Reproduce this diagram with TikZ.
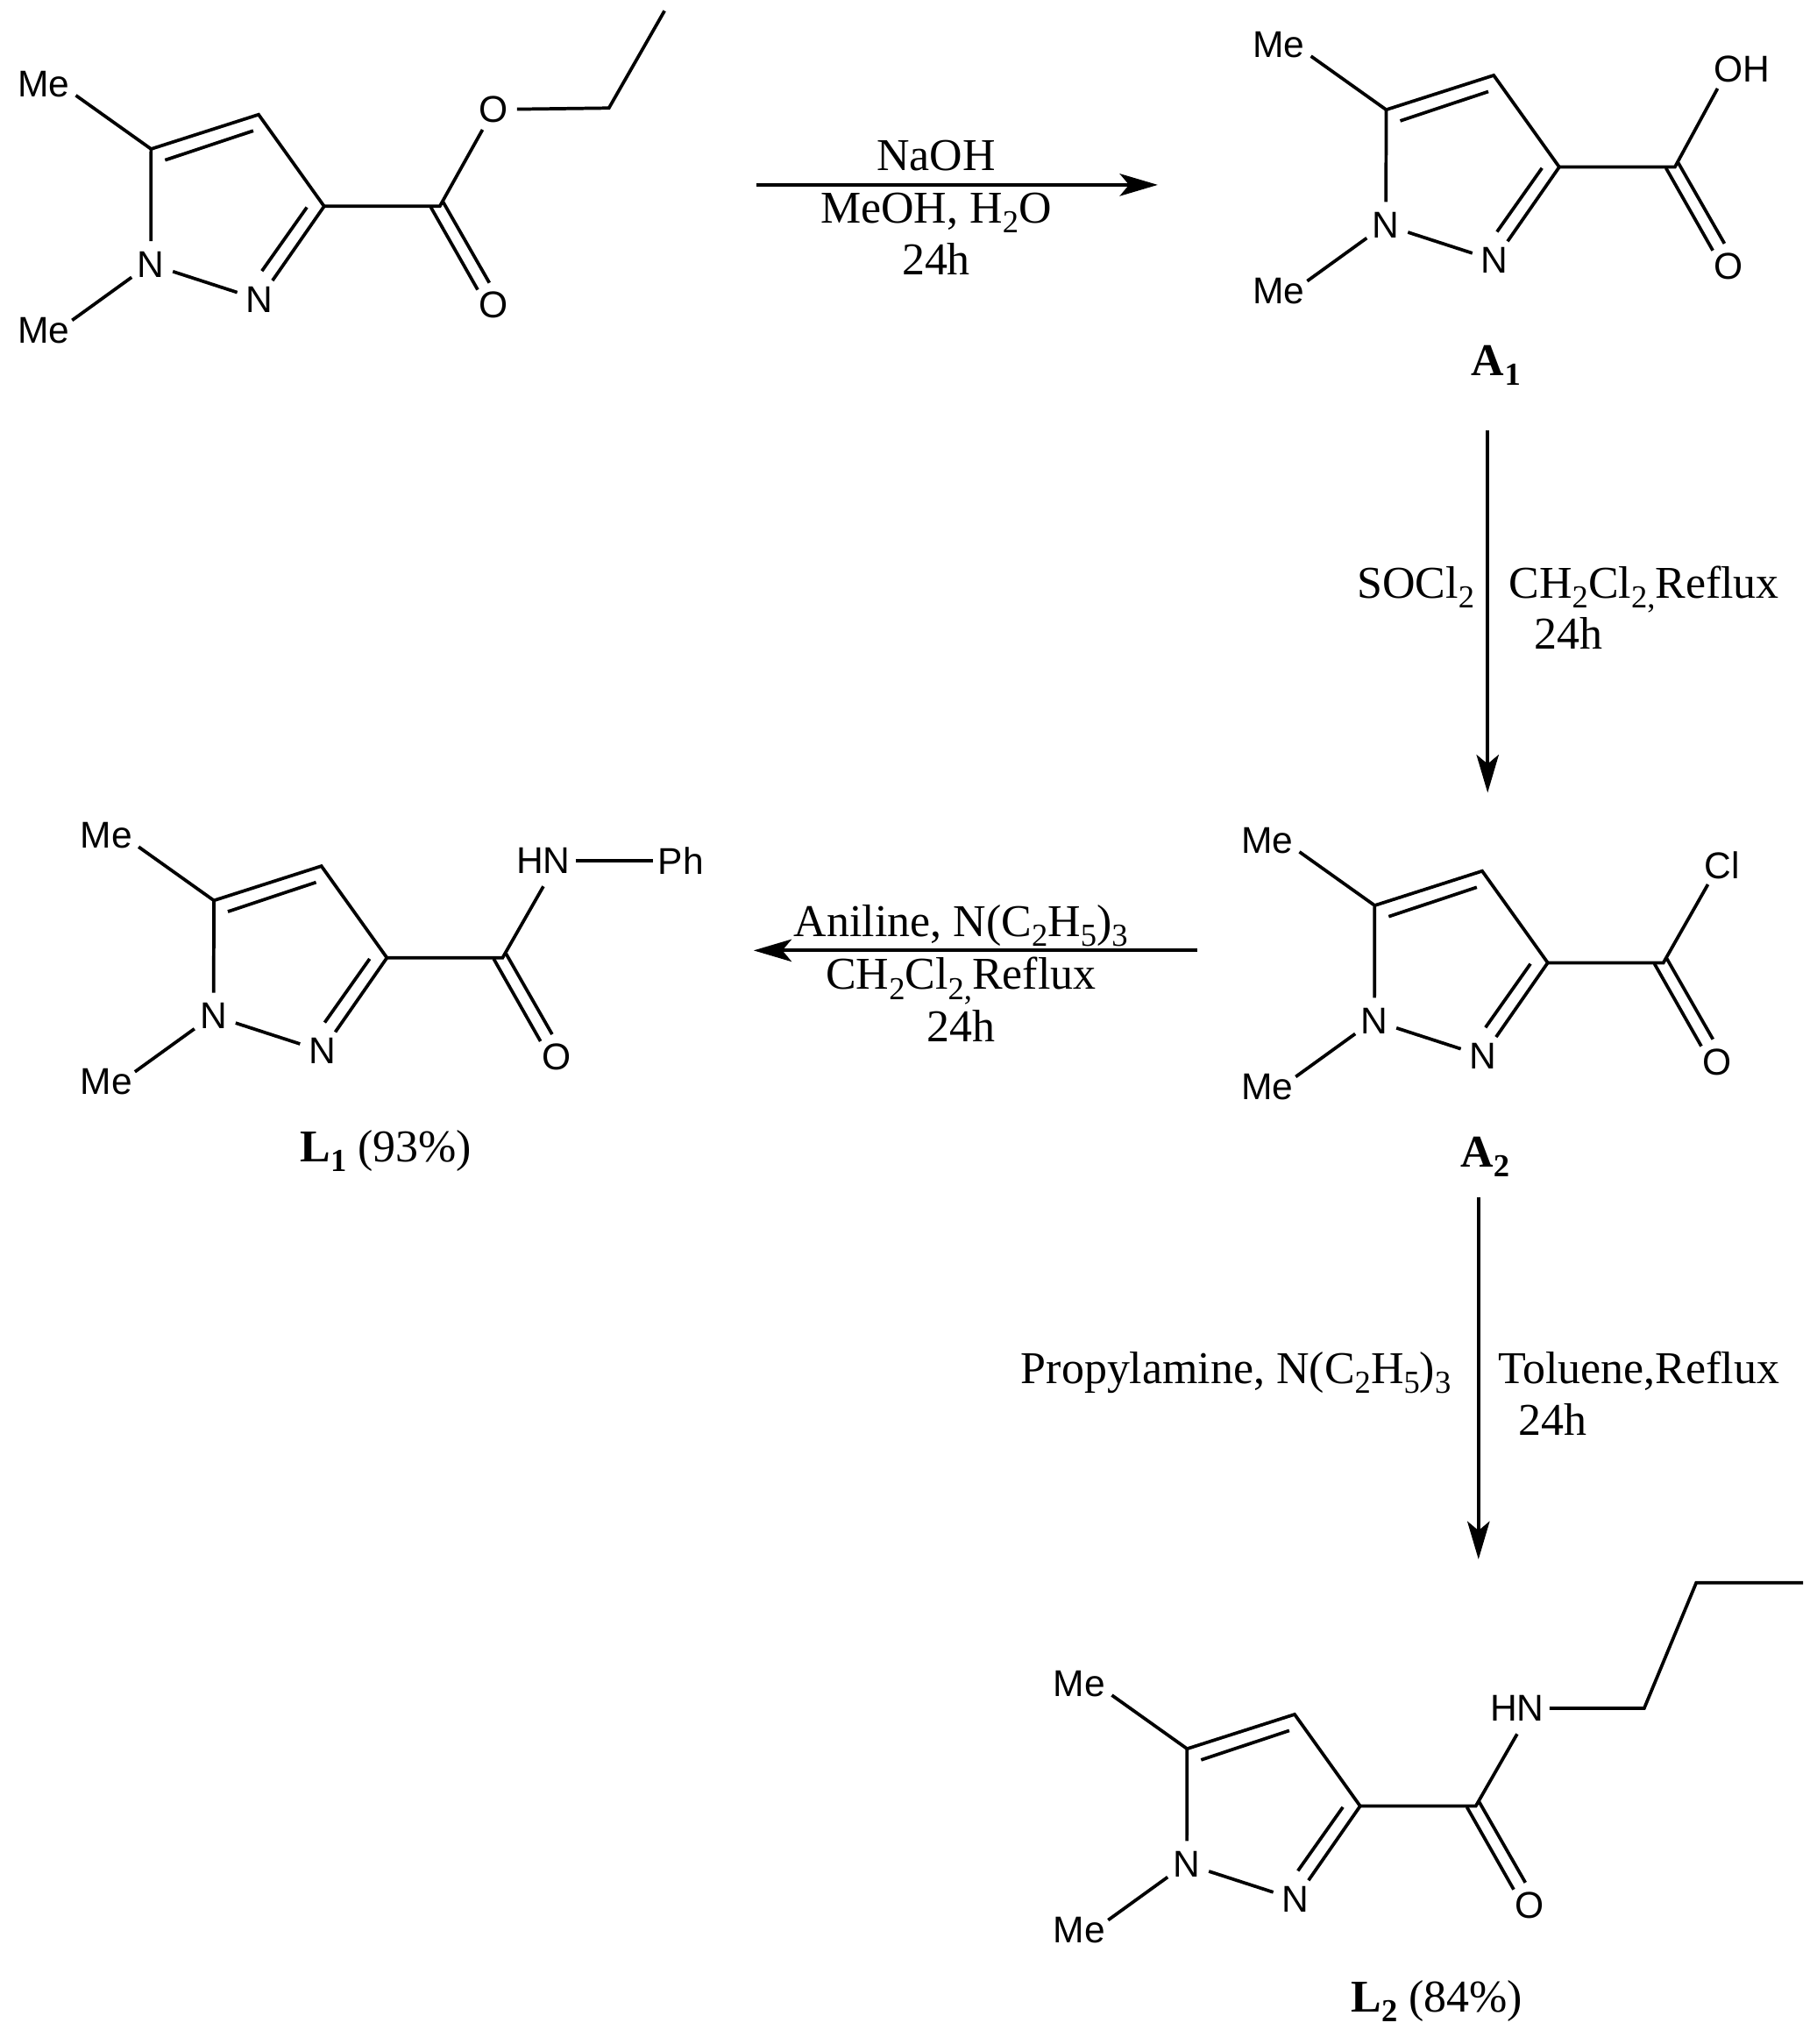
\documentclass[tikz,border=0pt]{standalone}
\usepackage{fontspec}
\setmainfont{Liberation Serif}
\newfontfamily\atomfont{Liberation Sans}
\usetikzlibrary{arrows.meta}
\newcommand{\lowi}[1]{\raisebox{-7.4pt}{\fontsize{24.5}{25}\selectfont #1}}
\tikzset{
  bondline/.style={line width=2.5pt,line join=miter,black},
  rxnarrow/.style={line width=2.7pt,black,-{Stealth[length=29pt,width=17pt,inset=7pt]}},
  atomlabel/.style={circle,inner sep=0pt,minimum size=#1,font=\atomfont\fontsize{28.5}{30}\selectfont,text=black},
  atomlabel/.default=35pt,
  atomwide/.style={rectangle,inner sep=0pt,minimum width=49.2pt,minimum height=38.8pt,font=\atomfont\fontsize{28.5}{30}\selectfont,text=black},
  reagent/.style={anchor=base,inner sep=0pt,font=\fontsize{34.8}{40}\selectfont,text=black},
  boldlabel/.style={reagent,font=\bfseries\fontsize{34.8}{40}\selectfont}
}
% core of each molecule: #1 prefix, #2 dx, #3 dy
\newcommand{\pyrazole}[3]{%
\begin{scope}[shift={(#2,#3)}]
  \coordinate (#1c5) at (115.5,113.9);
  \coordinate (#1c4) at (197.7,87.6);
  \coordinate (#1c3) at (247.8,157.7);
  \coordinate (#1cx) at (336.2,157.7);
  \coordinate (#1i5) at (126.2,122.4);
  \coordinate (#1i4) at (193.6,100);
  \coordinate (#1i3) at (234.6,158.5);
  \coordinate (#1in) at (200.2,207.2);
  \coordinate (#1da) at (329.4,158.5);
  \coordinate (#1db) at (365.2,221.5);
  \coordinate (#1dc) at (338.8,154.5);
  \coordinate (#1dd) at (374.1,216.2);
  \node[atomlabel] (#1n1) at (115.3,202.1) {N};
  \node[atomlabel] (#1n2) at (198.2,229) {N};
  \node[atomlabel] (#1o) at (377.5,233.4) {O};
  \node[atomlabel=52pt] (#1met) at (33.2,64.4) {Me};
  \node[atomlabel=46pt] (#1meb) at (33.2,252.4) {Me};
\end{scope}
\draw[bondline] (#1n1) -- (#1c5) -- (#1c4) -- (#1c3) -- (#1n2);
\draw[bondline] (#1n1) -- (#1n2);
\draw[bondline] (#1n1.214) -- (#1meb.19);
\draw[bondline] (#1met.-19.5) -- (#1c5);
\draw[bondline] (#1i5) -- (#1i4);
\draw[bondline] (#1i3) -- (#1in);
\draw[bondline] (#1da) -- (#1db);
\draw[bondline] (#1dc) -- (#1dd);
}
\begin{document}
\begin{tikzpicture}[x=1pt,y=-1pt]
\useasboundingbox (0,0) rectangle (1389,1562.6);
% starting ester
\pyrazole{s}{0}{0}
\node[atomlabel] (so2) at (377.5,83.7) {O};
\coordinate (sch2) at (465.5,82.6);
\coordinate (sch3) at (508,8.3);
\draw[bondline] (sc3) -- (scx) -- (so2);
\draw[bondline] (so2) -- (sch2) -- (sch3);
% A1
\pyrazole{a}{944.2}{-30}
\node[atomlabel=47pt] (aoh) at (1331.5,52.7) {OH};
\draw[bondline] (ac3) -- (acx) -- (aoh.219);
% A2
\pyrazole{b}{935.4}{578.3}
\node[atomlabel=36pt] (bcl) at (1316.6,661.6) {Cl};
\draw[bondline] (bc3) -- (bcx) -- (bcl.233);
% L1
\pyrazole{c}{48}{574.5}
\node[atomwide] (chn) at (415.4,658) {HN};
\node[atomlabel=42.4pt] (cph) at (520.4,658) {Ph};
\draw[bondline] (cc3) -- (ccx) -- (chn.south);
\draw[bondline] (chn.east) -- (cph.west);
% L2
\pyrazole{d}{792}{1223}
\node[atomwide] (dhn) at (1159.8,1306) {HN};
\coordinate (dp1) at (1256.9,1306);
\coordinate (dp2) at (1296.7,1210);
\coordinate (dp3) at (1378.4,1210);
\draw[bondline] (dc3) -- (dcx) -- (dhn.south);
\draw[bondline] (dhn.east) -- (dp1) -- (dp2) -- (dp3);
% labels and arrows
\begin{scope}[x=.9967pt,y=-.9967pt]
\node[boldlabel] (alab) at (1147.5,288) {A\lowi{1}};
\node[boldlabel] (blab) at (1139,895) {A\lowi{2}};
\node[reagent] (clab) at (296,891) {\textbf{L\lowi{\bfseries 1}} (93\%)};
\node[reagent] (dlab) at (1102,1543) {\textbf{L\lowi{\bfseries 2}} (84\%)};
\coordinate (r1a) at (580,141.8);
\coordinate (r1b) at (888,141.8);
\draw[rxnarrow] (r1a) -- (r1b);
\node[reagent] (r1t) at (718,130.5) {NaOH};
\node[reagent] (r1m) at (718,171) {MeOH, H\lowi{2}O};
\node[reagent] (r1h) at (718,211) {24h};
\coordinate (r2a) at (1141,330);
\coordinate (r2b) at (1141,608);
\draw[rxnarrow] (r2a) -- (r2b);
\node[reagent] (r2l) at (1086,459) {SOCl\lowi{2}};
\node[reagent] (r2r) at (1261,459) {CH\lowi{2}Cl\lowi{2,}Reflux};
\node[reagent] (r2h) at (1203,498) {24h};
\coordinate (r3a) at (918,729);
\coordinate (r3b) at (578,729);
\draw[rxnarrow] (r3a) -- (r3b);
\node[reagent] (r3t) at (737,718) {Aniline, N(C\lowi{2}H\lowi{5})\lowi{3}};
\node[reagent] (r3m) at (737,759) {CH\lowi{2}Cl\lowi{2,}Reflux};
\node[reagent] (r3h) at (737,799) {24h};
\coordinate (r4a) at (1134,918);
\coordinate (r4b) at (1134,1196);
\draw[rxnarrow] (r4a) -- (r4b);
\node[reagent] (r4l) at (948,1061) {Propylamine, N(C\lowi{2}H\lowi{5})\lowi{3}};
\node[reagent] (r4r) at (1257,1061) {Toluene,Reflux};
\node[reagent] (r4h) at (1191,1101) {24h};
\end{scope}
\end{tikzpicture}
\end{document}
